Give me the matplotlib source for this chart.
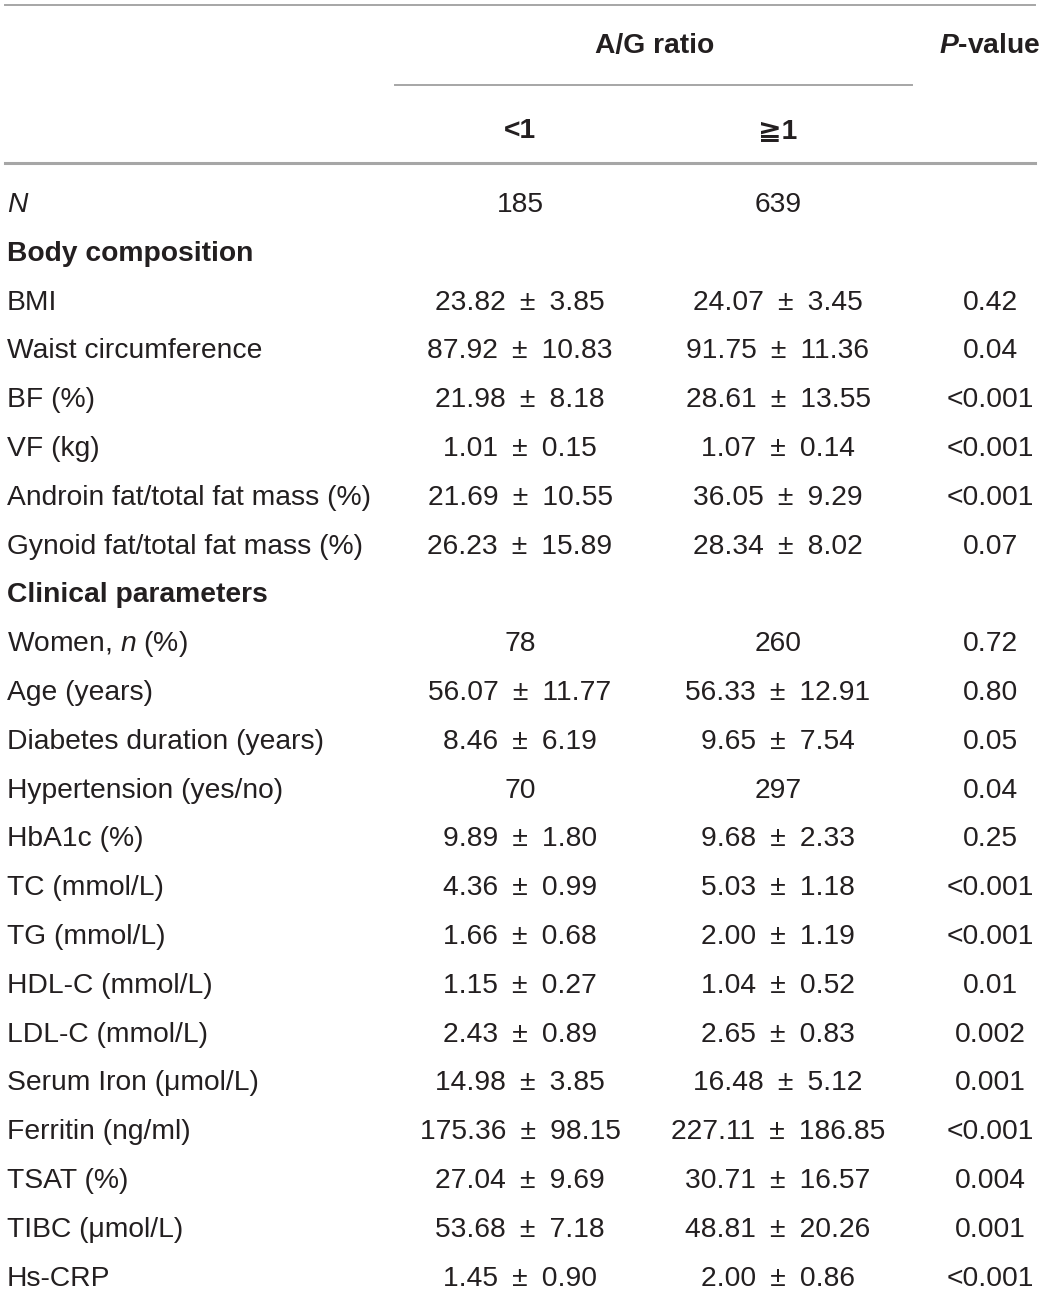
import matplotlib
matplotlib.use("Agg")
import matplotlib.pyplot as plt

plt.rcParams['font.family'] = ['Liberation Sans', 'DejaVu Sans']
plt.rcParams['mathtext.fontset'] = 'custom'
plt.rcParams['mathtext.rm'] = 'Liberation Sans'
plt.rcParams['mathtext.it'] = 'Liberation Sans:italic'
plt.rcParams['mathtext.bf'] = 'Liberation Sans:bold'
plt.rcParams['mathtext.bfit'] = 'Liberation Sans:italic:bold'

GROUP_HEADER = "A/G ratio"
SUB_HEADERS = ["<1", "≧1"]
P_HEADER = r"$\mathbfit{P}$-value"

LABELS = [
    r"$\mathit{N}$", "Body composition", "BMI", "Waist circumference", "BF (%)",
    "VF (kg)", "Androin fat/total fat mass (%)", "Gynoid fat/total fat mass (%)",
    "Clinical parameters", r"Women, $\mathit{n}$ (%)", "Age (years)",
    "Diabetes duration (years)", "Hypertension (yes/no)", "HbA1c (%)",
    "TC (mmol/L)", "TG (mmol/L)", "HDL-C (mmol/L)", "LDL-C (mmol/L)",
    "Serum Iron (μmol/L)", "Ferritin (ng/ml)", "TSAT (%)", "TIBC (μmol/L)",
    "Hs-CRP",
]
SECTIONS = {"Body composition", "Clinical parameters"}
LOW_AG = [
    "185", "", "23.82 ± 3.85", "87.92 ± 10.83", "21.98 ± 8.18", "1.01 ± 0.15",
    "21.69 ± 10.55", "26.23 ± 15.89", "", "78", "56.07 ± 11.77", "8.46 ± 6.19",
    "70", "9.89 ± 1.80", "4.36 ± 0.99", "1.66 ± 0.68", "1.15 ± 0.27",
    "2.43 ± 0.89", "14.98 ± 3.85", "175.36 ± 98.15", "27.04 ± 9.69",
    "53.68 ± 7.18", "1.45 ± 0.90",
]
HIGH_AG = [
    "639", "", "24.07 ± 3.45", "91.75 ± 11.36", "28.61 ± 13.55", "1.07 ± 0.14",
    "36.05 ± 9.29", "28.34 ± 8.02", "", "260", "56.33 ± 12.91", "9.65 ± 7.54",
    "297", "9.68 ± 2.33", "5.03 ± 1.18", "2.00 ± 1.19", "1.04 ± 0.52",
    "2.65 ± 0.83", "16.48 ± 5.12", "227.11 ± 186.85", "30.71 ± 16.57",
    "48.81 ± 20.26", "2.00 ± 0.86",
]
P_VALUES = [
    "", "", "0.42", "0.04", "<0.001", "<0.001", "<0.001", "0.07", "", "0.72",
    "0.80", "0.05", "0.04", "0.25", "<0.001", "<0.001", "0.01", "0.002",
    "0.001", "<0.001", "0.004", "0.001", "<0.001",
]

W, H = 1047, 1292
FS = 20.3
TXT = "#231f20"
RULE = "#a6a6a6"
X_LABEL, X_LOW, X_HIGH, X_P = 7, 520, 778, 990
Y_FIRST, DY = 202, 48.8
CAP = 10  # half cap height in px, to put baselines under row centres


def main():
    fig = plt.figure(figsize=(W / 100, H / 100), dpi=100)
    ax = fig.add_axes([0, 0, 1, 1])
    ax.set_xlim(0, W)
    ax.set_ylim(H, 0)
    ax.axis("off")

    # rules
    ax.plot([5, 1035], [5, 5], color=RULE, lw=1.4)
    ax.plot([395, 912], [85, 85], color=RULE, lw=1.4)
    ax.plot([5, 1035], [163, 163], color=RULE, lw=2.2)

    # header
    ax.text((X_LOW + X_HIGH) / 2 + 6, 43 + CAP, GROUP_HEADER, ha="center",
            va="baseline", fontsize=FS, fontweight="bold", color=TXT)
    ax.text(X_P, 43 + CAP, P_HEADER, ha="center", va="baseline",
            fontsize=FS, fontweight="bold", color=TXT)
    for x, s in zip([X_LOW, X_HIGH], SUB_HEADERS):
        ax.text(x, 128 + CAP, s, ha="center", va="baseline", fontsize=FS,
                fontweight="bold", color=TXT)

    # body rows
    for i, lab in enumerate(LABELS):
        y = Y_FIRST + i * DY + CAP
        bold = lab in SECTIONS
        ax.text(X_LABEL, y, lab, ha="left", va="baseline", fontsize=FS,
                fontweight="bold" if bold else "normal", color=TXT)
        for x, col in zip([X_LOW, X_HIGH, X_P], [LOW_AG, HIGH_AG, P_VALUES]):
            if col[i]:
                s = col[i].replace(" ± ", "\u2002±\u2002")
                ax.text(x, y, s, ha="center", va="baseline",
                        fontsize=FS, color=TXT)

    fig.savefig("out.png", dpi=100, facecolor="white")


if __name__ == "__main__":
    main()
